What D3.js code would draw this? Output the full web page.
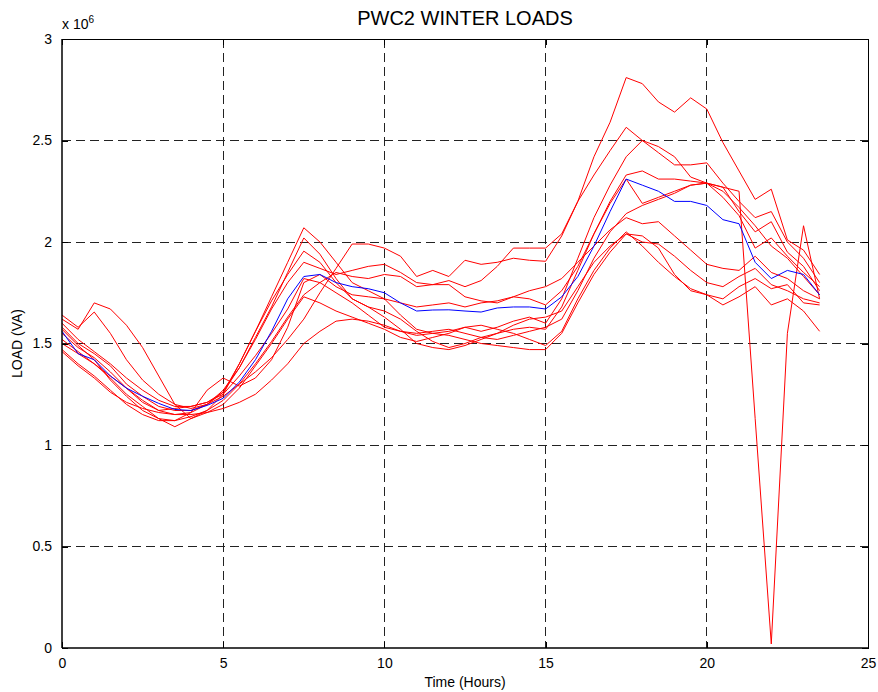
<!DOCTYPE html>
<html>
<head>
<meta charset="utf-8">
<script src="https://cdn.jsdelivr.net/npm/d3@7"></script>
<style>
  body { margin: 0; background: #fff; }
  text { font-family: "Liberation Sans", Arial, sans-serif; }
</style>
</head>
<body>
<script>
// half-hour steps 0 .. 23.5
const hours = d3.range(48).map(i => i / 2);

// daily winter load curves (x 10^6 VA)
const day1 = [1.50,1.45,1.40,1.34,1.28,1.22,1.17,1.15,1.16,1.20,1.24,1.30,1.36,1.43,1.52,1.62,1.75,1.87,1.99,1.99,1.97,1.93,1.83,1.86,1.83,1.91,1.89,1.90,1.92,1.91,1.905,2.03,2.20,2.42,2.59,2.81,2.78,2.69,2.64,2.71,2.655,2.49,2.35,2.21,2.26,2.01,1.96,1.84];
const day2 = [1.60,1.52,1.46,1.40,1.33,1.27,1.22,1.19,1.19,1.21,1.26,1.38,1.52,1.67,1.80,1.90,1.87,1.84,1.86,1.88,1.89,1.85,1.80,1.79,1.81,1.78,1.81,1.88,1.97,1.97,1.97,2.04,2.20,2.33,2.45,2.565,2.50,2.44,2.38,2.38,2.39,2.29,2.20,2.12,2.15,2.00,1.92,1.80];
const day3 = [1.62,1.57,1.70,1.67,1.59,1.48,1.34,1.20,1.13,1.17,1.25,1.40,1.56,1.73,1.90,2.07,2.00,1.90,1.80,1.76,1.72,1.64,1.57,1.55,1.56,1.58,1.56,1.58,1.61,1.63,1.60,1.72,1.92,2.12,2.28,2.42,2.50,2.47,2.42,2.32,2.29,2.27,2.15,2.05,2.10,1.95,1.88,1.76];
const day4 = [1.58,1.50,1.45,1.39,1.30,1.24,1.19,1.17,1.17,1.20,1.27,1.38,1.53,1.68,1.85,2.02,1.94,1.82,1.72,1.68,1.66,1.62,1.56,1.51,1.48,1.50,1.53,1.55,1.57,1.58,1.57,1.68,1.86,2.04,2.20,2.33,2.35,2.31,2.31,2.30,2.29,2.22,2.13,1.97,2.02,1.93,1.85,1.78];
const day5 = [1.55,1.48,1.43,1.36,1.28,1.21,1.17,1.18,1.19,1.21,1.25,1.34,1.44,1.55,1.67,1.82,1.80,1.75,1.70,1.64,1.58,1.56,1.55,1.56,1.57,1.55,1.53,1.52,1.54,1.56,1.58,1.62,1.76,1.92,2.05,2.14,2.18,2.21,2.24,2.28,2.29,2.25,2.17,2.08,1.98,1.92,1.83,1.74];
const day6 = [1.47,1.40,1.34,1.27,1.20,1.15,1.12,1.12,1.14,1.17,1.22,1.30,1.40,1.51,1.63,1.74,1.80,1.85,1.83,1.82,1.84,1.83,1.78,1.79,1.79,1.73,1.71,1.70,1.73,1.76,1.78,1.82,1.90,1.98,2.06,2.12,2.09,2.10,2.03,1.96,1.89,1.87,1.86,1.93,1.85,1.82,1.76,1.72];
const day7 = [1.46,1.39,1.33,1.26,1.21,1.18,1.16,1.15,1.15,1.16,1.18,1.21,1.25,1.32,1.40,1.50,1.56,1.61,1.62,1.61,1.59,1.56,1.54,1.55,1.54,1.52,1.50,1.49,1.48,1.47,1.47,1.55,1.70,1.84,1.95,2.04,2.03,1.97,1.84,1.76,1.74,1.69,1.73,1.78,1.69,1.72,1.66,1.56];
const day8 = [1.64,1.58,1.655,1.55,1.42,1.32,1.25,1.20,1.18,1.20,1.26,1.40,1.56,1.71,1.84,1.955,1.90,1.80,1.72,1.68,1.63,1.57,1.50,1.48,1.47,1.49,1.52,1.55,1.59,1.62,1.63,1.66,1.78,1.90,1.98,2.04,2.00,1.99,1.93,1.86,1.80,1.78,1.83,1.87,1.79,1.76,1.72,1.70];
const day9 = [1.52,1.46,1.40,1.33,1.25,1.19,1.13,1.12,1.16,1.27,1.33,1.29,1.33,1.42,1.58,1.80,1.84,1.78,1.74,1.73,1.72,1.70,1.68,1.69,1.70,1.68,1.70,1.71,1.73,1.72,1.69,1.76,1.88,2.04,2.19,2.31,2.19,2.22,2.25,2.28,2.29,2.27,2.25,1.13,0.02,1.55,2.08,1.72];
const day10 = [1.57,1.49,1.42,1.32,1.24,1.17,1.13,1.09,1.13,1.16,1.20,1.28,1.39,1.50,1.62,1.73,1.70,1.66,1.63,1.60,1.57,1.53,1.51,1.53,1.55,1.58,1.59,1.57,1.55,1.52,1.49,1.56,1.72,1.86,1.97,2.05,1.98,1.90,1.83,1.77,1.74,1.72,1.78,1.82,1.77,1.79,1.70,1.69];
const days = [day1, day2, day3, day4, day5, day6, day7, day8, day9, day10];

// average curve
const mean = [1.56,1.45,1.42,1.34,1.28,1.24,1.205,1.175,1.17,1.195,1.23,1.31,1.42,1.56,1.72,1.83,1.84,1.80,1.78,1.77,1.75,1.70,1.66,1.665,1.666,1.66,1.655,1.675,1.68,1.68,1.67,1.73,1.83,1.98,2.15,2.31,2.28,2.25,2.20,2.20,2.18,2.11,2.09,1.90,1.82,1.86,1.84,1.74];

const xTicks = [0, 5, 10, 15, 20, 25];
const yTicks = [0, 0.5, 1, 1.5, 2, 2.5, 3];

const W = 878, H = 692;
const mLeft = 62, mRight = 868, mTop = 39, mBottom = 648;

const svg = d3.select("body").append("svg")
  .attr("width", W)
  .attr("height", H);

const x = d3.scaleLinear().domain([0, 25]).range([mLeft, mRight]);
const y = d3.scaleLinear().domain([0, 3]).range([mBottom, mTop]);

// grid
svg.append("g").selectAll("line").data(xTicks.slice(1, -1))
  .enter().append("line")
  .attr("x1", d => x(d)).attr("x2", d => x(d))
  .attr("y1", mTop).attr("y2", mBottom)
  .attr("stroke", "#222").attr("stroke-width", 1)
  .attr("stroke-dasharray", "9,5")
  .attr("shape-rendering", "crispEdges");

svg.append("g").selectAll("line").data(yTicks.slice(1, -1))
  .enter().append("line")
  .attr("x1", mLeft).attr("x2", mRight)
  .attr("y1", d => y(d)).attr("y2", d => y(d))
  .attr("stroke", "#222").attr("stroke-width", 1)
  .attr("stroke-dasharray", "9,5")
  .attr("shape-rendering", "crispEdges");

// curves
const line = d3.line()
  .x((d, i) => x(hours[i]))
  .y(d => y(d));

svg.append("g").selectAll("path").data(days)
  .enter().append("path")
  .attr("d", line)
  .attr("fill", "none")
  .attr("stroke", "#ff0000")
  .attr("stroke-width", 1);

svg.append("path")
  .attr("d", line(mean))
  .attr("fill", "none")
  .attr("stroke", "#0000ff")
  .attr("stroke-width", 1);

// axes (ticks inside, box all round)
const axB = svg.append("g").attr("transform", `translate(0,${mBottom})`)
  .call(d3.axisBottom(x).tickValues(xTicks).tickSizeInner(-6).tickSizeOuter(0).tickPadding(10).tickFormat(d3.format("d")));
const axT = svg.append("g").attr("transform", `translate(0,${mTop})`)
  .call(d3.axisTop(x).tickValues(xTicks).tickSizeInner(-6).tickSizeOuter(0).tickFormat(""));
const axL = svg.append("g").attr("transform", `translate(${mLeft},0)`)
  .call(d3.axisLeft(y).tickValues(yTicks).tickSizeInner(-6).tickSizeOuter(0).tickPadding(10).tickFormat(d => d));
const axR = svg.append("g").attr("transform", `translate(${mRight},0)`)
  .call(d3.axisRight(y).tickValues(yTicks).tickSizeInner(-6).tickSizeOuter(0).tickFormat(""));

[axB, axT, axL, axR].forEach(g => {
  g.selectAll("path, line").attr("stroke", "#000").attr("stroke-width", 1)
    .attr("shape-rendering", "crispEdges");
  g.selectAll("text").attr("font-size", 14).attr("fill", "#000")
    .style("font-family", "'Liberation Sans', Arial, sans-serif");
});
axB.select(".domain").remove();
axB.append("line").attr("x1", mLeft).attr("x2", mRight).attr("y1", 0).attr("y2", 0)
  .attr("stroke", "#000").attr("stroke-width", 1.5);
axL.select(".domain").remove();
axL.append("line").attr("x1", 0).attr("x2", 0).attr("y1", mTop).attr("y2", mBottom)
  .attr("stroke", "#000").attr("stroke-width", 1.5);

// exponent label
const exp = svg.append("text")
  .attr("x", mLeft).attr("y", 29)
  .attr("font-size", 14)
  .text("x 10");
exp.append("tspan").attr("dy", -6).attr("font-size", 10).text("6");

// titles
svg.append("text")
  .attr("x", (mLeft + mRight) / 2).attr("y", 25)
  .attr("text-anchor", "middle")
  .attr("font-size", 20)
  .text("PWC2 WINTER LOADS");

svg.append("text")
  .attr("x", (mLeft + mRight) / 2).attr("y", 687)
  .attr("text-anchor", "middle")
  .attr("font-size", 14)
  .text("Time (Hours)");

svg.append("text")
  .attr("transform", `translate(22,${(mTop + mBottom) / 2}) rotate(-90)`)
  .attr("text-anchor", "middle")
  .attr("font-size", 14)
  .text("LOAD (VA)");
</script>
</body>
</html>
